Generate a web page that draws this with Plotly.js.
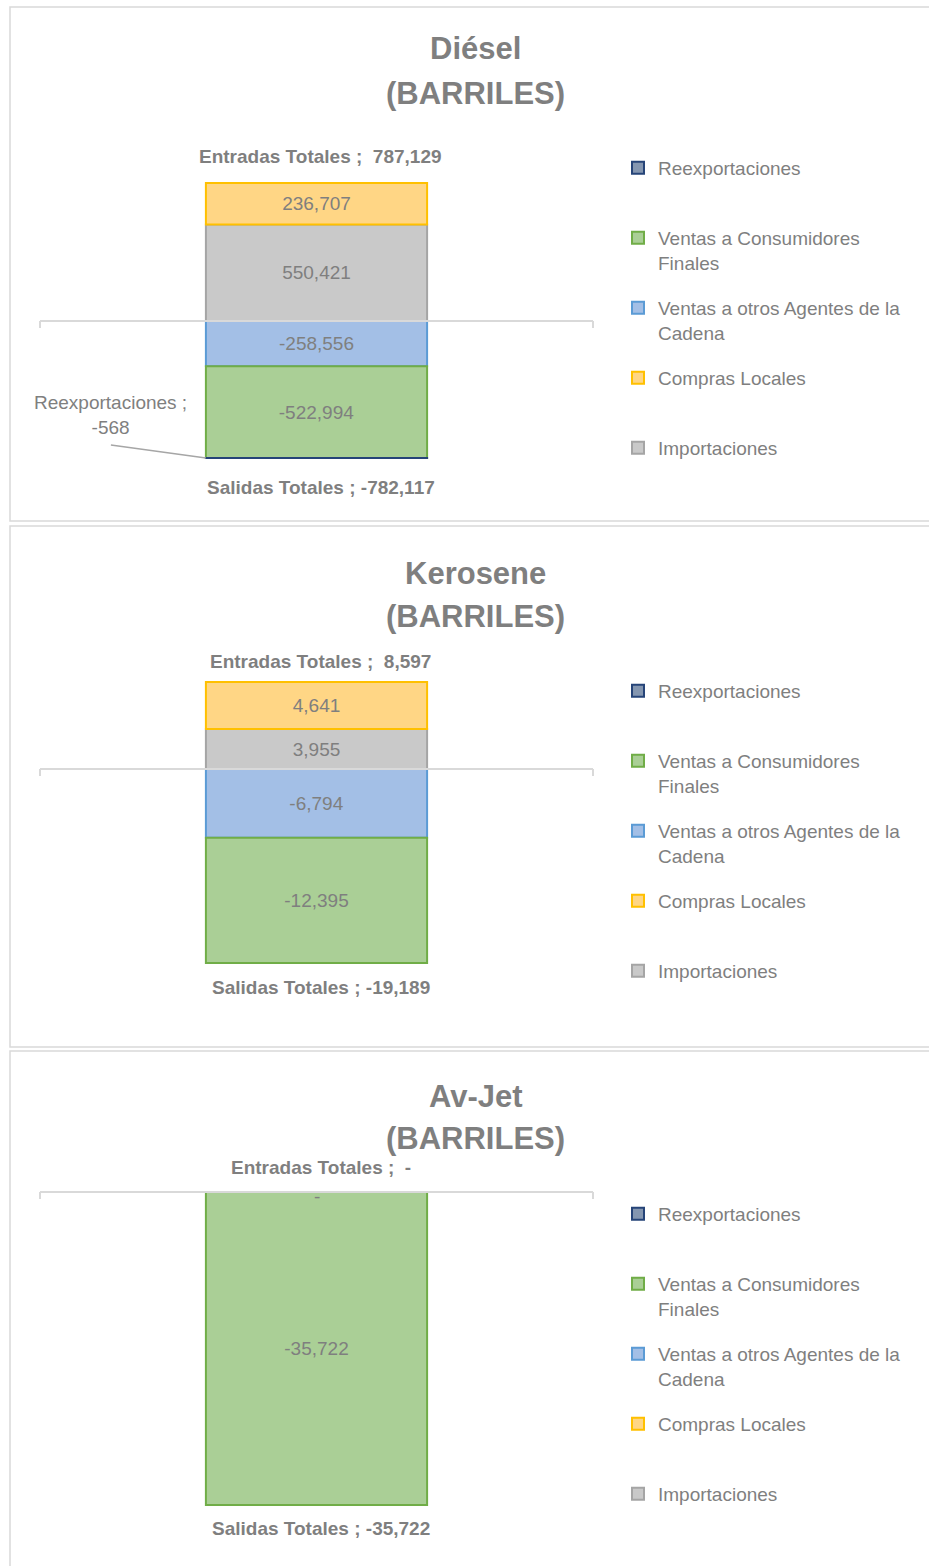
<!DOCTYPE html>
<html>
<head>
<meta charset="utf-8">
<script src="https://cdn.plot.ly/plotly-3.0.1.min.js"></script>
<style>
html, body { margin: 0; padding: 0; background: #ffffff; }
#chart { width: 929px; height: 1566px; }
</style>
</head>
<body>
<div id="chart"></div>
<script>
// ---------------- DATA ----------------
const panels = ['Diésel', 'Kerosene', 'Av-Jet'];
const unidad = '(BARRILES)';
const importaciones = [550421, 3955, 0];
const comprasLocales = [236707, 4641, 0];
const ventasOtrosAgentes = [-258556, -6794, 0];
const ventasConsumidores = [-522994, -12395, -35722];
const reexportaciones = [-568, 0, 0];
const entradasTotales = [787129, 8597, 0];
const salidasTotales = [-782117, -19189, -35722];
const seriesNames = ['Importaciones', 'Compras Locales', 'Ventas a otros Agentes de la<br>Cadena', 'Ventas a Consumidores<br>Finales', 'Reexportaciones'];
const labelEntradas = 'Entradas Totales ; ';
const labelSalidas = 'Salidas Totales ; ';

// ---------------- STYLE / LAYOUT ----------------
const W = 929, H = 1566;
const px = x => x / W;
const py = y => 1 - y / H;
const FONT = '"Liberation Sans", Arial, "DejaVu Sans", sans-serif';
const GREY = '#7f7f7f';

// stacking order: first trace sits next to zero; legend shown in reverse via legendrank
const seriesStyle = [
  { values: importaciones, fill: '#C9C9C9', line: '#A5A5A5', rank: 5 },
  { values: comprasLocales, fill: '#FFD685', line: '#FFC000', rank: 4 },
  { values: ventasOtrosAgentes, fill: '#A3BFE6', line: '#5B9BD5', rank: 3 },
  { values: ventasConsumidores, fill: '#AACF96', line: '#70AD47', rank: 2 },
  { values: reexportaciones, fill: '#8496B0', line: '#264478', rank: 1, outside: true }
];

// pixel calibration of each panel (zero line / bottom of the stack / plot domain)
const geom = [
  { zero: 321, bottom: 458, domTop: 130, domBot: 505, legendTop: 149, titleY: [48, 93], border: [7, 521], entShift: 27, salShift: 29 },
  { zero: 769, bottom: 963, domTop: 640, domBot: 1020, legendTop: 672, titleY: [573, 616], border: [526, 1047], entShift: 21, salShift: 24 },
  { zero: 1192, bottom: 1505, domTop: 1160, domBot: 1545, legendTop: 1195, titleY: [1096, 1138], border: [1051, 1620], entShift: 25, salShift: 23 }
];

function fmt(v) {
  if (v === 0) return '-';
  const s = Math.abs(Math.round(v)).toLocaleString('en-US');
  return v < 0 ? '-' + s : s;
}
function fmtAcct(v) { return v < 0 ? fmt(v) : '\u00a0' + fmt(v); }

const traces = [];
const annotations = [];
const shapes = [];
const layout = {
  width: W, height: H,
  margin: { l: 0, r: 0, t: 0, b: 0 },
  paper_bgcolor: '#ffffff', plot_bgcolor: 'rgba(0,0,0,0)',
  barmode: 'relative',
  showlegend: true,
  font: { family: FONT, color: GREY, size: 19 },
  hovermode: false
};

panels.forEach((panel, p) => {
  const g = geom[p];
  const sfx = p === 0 ? '' : String(p + 1);
  const xa = 'x' + sfx, ya = 'y' + sfx;
  const legendId = 'legend' + sfx;
  const negSum = seriesStyle.reduce((a, s) => a + Math.min(0, s.values[p]), 0);
  const k = -salidasTotales[p] / (g.bottom - g.zero);

  layout['xaxis' + sfx] = {
    domain: [px(40), px(593)], anchor: ya, type: 'category',
    range: [-0.5, 0.5], visible: false, fixedrange: true
  };
  layout['yaxis' + sfx] = {
    domain: [py(g.domBot), py(g.domTop)], anchor: xa,
    range: [(g.zero - g.domBot) * k, (g.zero - g.domTop) * k],
    visible: false, showgrid: false, zeroline: false, fixedrange: true
  };
  layout[legendId] = {
    x: px(618), y: py(g.legendTop), xanchor: 'left', yanchor: 'top',
    xref: 'paper', yref: 'paper',
    font: { family: FONT, size: 19, color: GREY },
    traceorder: 'grouped', tracegroupgap: 17.6, valign: 'top',
    bgcolor: 'rgba(0,0,0,0)', borderwidth: 0, itemclick: false, itemdoubleclick: false
  };

  seriesStyle.forEach((s, i) => {
    const v = s.values[p];
    let legendName = seriesNames[i];
    if (legendName.indexOf('<br>') < 0) legendName += '<br>\u00a0';
    traces.push({
      type: 'bar', x: [panel], y: [v === 0 ? null : v], width: [0.4],
      xaxis: xa, yaxis: ya, name: legendName, legend: legendId,
      legendgroup: 'g' + p + '_' + i, legendrank: s.rank,
      marker: { color: s.fill, line: { color: s.line, width: 2 } },
      text: [(v === 0 || s.outside) ? '' : fmt(v)],
      textposition: 'inside', insidetextanchor: 'middle', constraintext: 'none',
      insidetextfont: { family: FONT, size: 19, color: GREY },
      hoverinfo: 'skip', cliponaxis: false
    });
    if (s.outside && v !== 0) {
      annotations.push({
        xref: xa, yref: ya, x: -0.2, y: negSum, ax: -95, ay: -43,
        axref: 'pixel', ayref: 'pixel',
        text: seriesNames[i] + ' ;<br>' + fmt(v),
        showarrow: true, arrowwidth: 0.1, arrowcolor: 'rgba(0,0,0,0)',
        font: { family: FONT, size: 19, color: GREY }, align: 'center'
      });
      // leader line from the label to the thin segment
      shapes.push({
        type: 'line', xref: xa, yref: ya, xsizemode: 'pixel', ysizemode: 'pixel',
        xanchor: -0.2, yanchor: negSum, x0: 0, y0: 0, x1: -95, y1: 13,
        line: { color: '#a6a6a6', width: 1.5 }, layer: 'above'
      });
    }
  });

  // zero label "-" for empty inflow stack
  if (importaciones[p] === 0 && comprasLocales[p] === 0) {
    annotations.push({
      xref: xa, yref: ya, x: 0, y: 0, yshift: -4, text: '-', showarrow: false,
      font: { family: FONT, size: 19, color: GREY }
    });
  }

  // totals
  annotations.push({
    xref: xa, yref: ya, x: 0, y: entradasTotales[p], yanchor: 'middle', yshift: g.entShift, xshift: 4,
    text: '<b>' + labelEntradas + fmtAcct(entradasTotales[p]) + '</b>', showarrow: false,
    font: { family: FONT, size: 19, color: GREY }
  });
  annotations.push({
    xref: xa, yref: ya, x: 0, y: negSum, yanchor: 'middle', yshift: -g.salShift, xshift: 4,
    text: '<b>' + labelSalidas + fmtAcct(salidasTotales[p]) + '</b>', showarrow: false,
    font: { family: FONT, size: 19, color: GREY }
  });

  // titles
  annotations.push({
    xref: 'paper', yref: 'paper', x: px(476), y: py(g.titleY[0]), yanchor: 'middle',
    text: '<b>' + panel + '</b>', showarrow: false, font: { family: FONT, size: 31, color: GREY }
  });
  annotations.push({
    xref: 'paper', yref: 'paper', x: px(476), y: py(g.titleY[1]), yanchor: 'middle',
    text: '<b>' + unidad + '</b>', showarrow: false, font: { family: FONT, size: 31, color: GREY }
  });

  // panel border
  shapes.push({
    type: 'rect', xref: 'paper', yref: 'paper', layer: 'below',
    x0: px(10), x1: px(980), y0: py(g.border[1]), y1: py(g.border[0]),
    line: { color: '#d9d9d9', width: 1.5 }, fillcolor: 'rgba(0,0,0,0)'
  });
  // category axis line at zero with end ticks
  shapes.push({
    type: 'line', xref: xa + ' domain', yref: ya, x0: 0, x1: 1, y0: 0, y1: 0,
    line: { color: '#d9d9d9', width: 2 }, layer: 'above'
  });
  [0, 1].forEach(xe => shapes.push({
    type: 'line', xref: xa + ' domain', yref: ya, ysizemode: 'pixel', yanchor: 0,
    x0: xe, x1: xe, y0: 0, y1: -7, line: { color: '#d9d9d9', width: 2 }, layer: 'above'
  }));
});

layout.annotations = annotations;
layout.shapes = shapes;

Plotly.newPlot('chart', traces, layout, { staticPlot: true, displayModeBar: false });
</script>
</body>
</html>
